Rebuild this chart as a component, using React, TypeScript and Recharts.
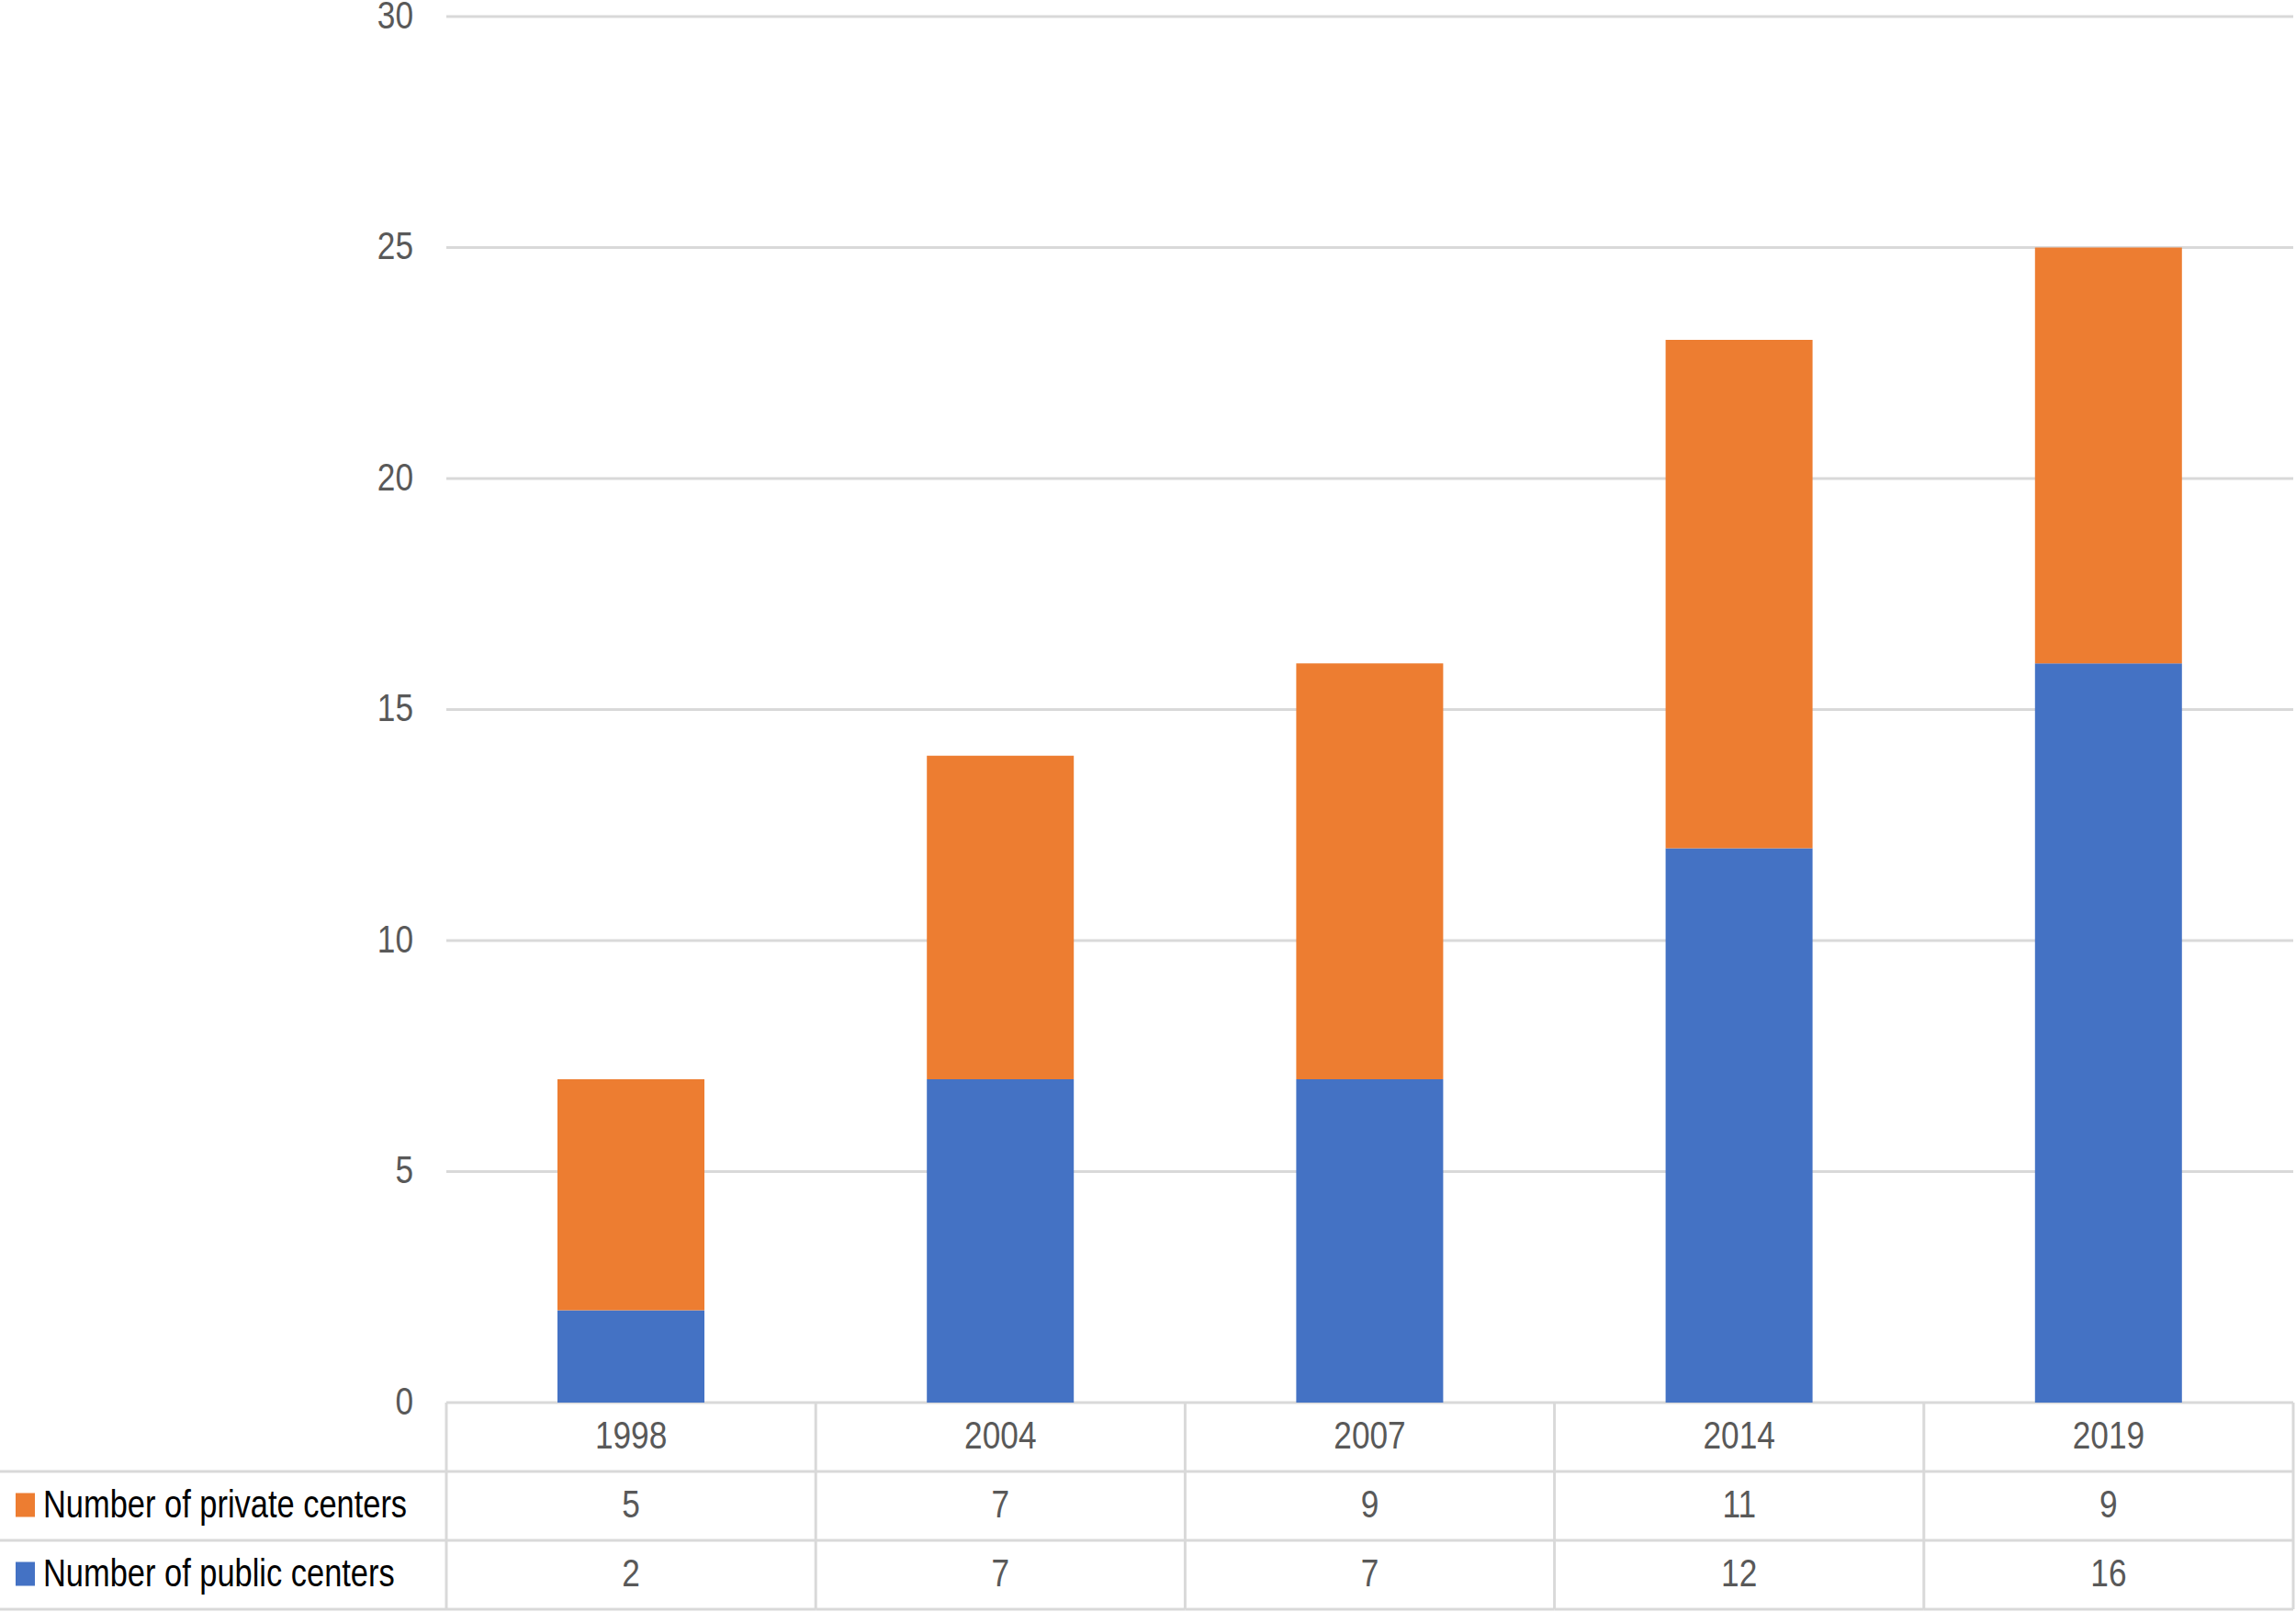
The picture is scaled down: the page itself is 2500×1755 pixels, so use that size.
import React from 'react';
import { BarChart, Bar, XAxis, YAxis, CartesianGrid } from 'recharts';

const years = ['1998', '2004', '2007', '2014', '2019'];
const publicCenters = [2, 7, 7, 12, 16];
const privateCenters = [5, 7, 9, 11, 9];
const yTicks = [0, 5, 10, 15, 20, 25, 30];

const rows = [
    { name: 'Number of private centers', key: 'private', color: '#ED7D31', values: privateCenters },
    { name: 'Number of public centers', key: 'public', color: '#4472C4', values: publicCenters },
];

const W = 2500;
const H = 1755;
const Y_AXIS_W = 486;
const RIGHT = 3;
const ROW_H = 75;
const GRID = '#d9d9d9';
const FONT = "'Liberation Sans', Arial, sans-serif";
const SQUEEZE = 0.82; // fake a narrow face
const BW = (W - Y_AXIS_W - RIGHT) / years.length;

const data = years.map((year, i) => ({
    year,
    public: publicCenters[i],
    private: privateCenters[i],
}));

function NarrowText({ x, y, anchor = 'middle', fill = '#595959', size = 43, children }: any) {
    return (
        <text
            transform={`translate(${x},${y}) scale(${SQUEEZE},1)`}
            x={0}
            y={0}
            dy="0.3em"
            textAnchor={anchor}
            fill={fill}
            fontSize={size}
            fontFamily={FONT}
        >
            {children}
        </text>
    );
}

function YTick(props: any) {
    const { x, y, payload } = props;
    return <NarrowText x={x} y={y} anchor="end">{payload.value}</NarrowText>;
}

// x axis tick that draws one column of the data table
function TableTick(props: any) {
    const { x, y, payload, index } = props;
    const left = x - BW / 2;
    const right = x + BW / 2;
    return (
        <g>
            <line x1={left} x2={left} y1={y} y2={y + ROW_H * 3} stroke={GRID} strokeWidth={3} />
            {index === years.length - 1 && (
                <line x1={right} x2={right} y1={y} y2={y + ROW_H * 3} stroke={GRID} strokeWidth={3} />
            )}
            {[1, 2, 3].map((r) => (
                <line key={r} x1={index === 0 ? 0 : left} x2={right} y1={y + ROW_H * r} y2={y + ROW_H * r} stroke={GRID} strokeWidth={3} />
            ))}
            <NarrowText x={x} y={y + ROW_H / 2}>{payload.value}</NarrowText>
            {rows.map((row, r) => (
                <NarrowText key={row.key} x={x} y={y + ROW_H * (r + 1.5)}>{row.values[index]}</NarrowText>
            ))}
            {index === 0 && rows.map((row, r) => (
                <g key={row.key + '-label'}>
                    <rect x={17} y={y + ROW_H * (r + 1.5) - 14} width={21} height={26} fill={row.color} />
                    <NarrowText x={47} y={y + ROW_H * (r + 1.5)} anchor="start" fill="#000" size={42}>
                        {row.name}
                    </NarrowText>
                </g>
            ))}
        </g>
    );
}

export default function App() {
    return (
        <div style={{ position: 'absolute', left: 0, top: 0, width: W, height: H, background: '#fff' }}>
            <BarChart width={W} height={H} data={data} margin={{ top: 18, right: RIGHT, bottom: 0, left: 0 }}>
                <CartesianGrid vertical={false} stroke={GRID} strokeWidth={3} />
                <XAxis
                    dataKey="year"
                    height={H - 1527}
                    axisLine={false}
                    tickLine={false}
                    tickSize={0}
                    tickMargin={0}
                    interval={0}
                    tick={<TableTick />}
                />
                <YAxis
                    width={Y_AXIS_W}
                    domain={[0, 30]}
                    ticks={yTicks}
                    axisLine={false}
                    tickLine={false}
                    tickSize={0}
                    tickMargin={36}
                    tick={<YTick />}
                />
                <Bar dataKey="public" stackId="a" fill="#4472C4" barSize={160} isAnimationActive={false} />
                <Bar dataKey="private" stackId="a" fill="#ED7D31" barSize={160} isAnimationActive={false} />
            </BarChart>
        </div>
    );
}
